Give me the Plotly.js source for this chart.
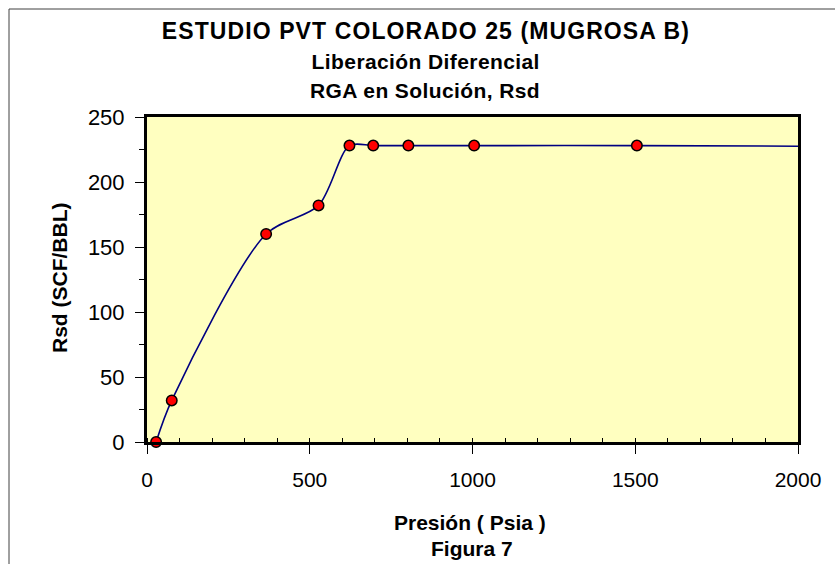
<!DOCTYPE html>
<html>
<head>
<meta charset="utf-8">
<script src="https://cdn.plot.ly/plotly-3.0.1.min.js"></script>
<style>
  html, body { margin: 0; padding: 0; background: #ffffff; }
  #chart { width: 835px; height: 564px; }
  g.annotation[data-index="0"] text { letter-spacing: 1.1px; }
  g.annotation[data-index="1"] text, g.annotation[data-index="2"] text { letter-spacing: 0.4px; }
</style>
</head>
<body>
<div id="chart"></div>
<script>
// Data
var presion = [28, 76, 366, 527, 622, 695, 803, 1005, 1505];
var rsd     = [0, 32, 160, 182, 228, 228, 228, 228, 228];
// continuation of the smoothed curve to the right edge of the chart
var curvaX = presion.concat([2060]);
var curvaY = rsd.concat([227.5]);

var xTicks = [0, 500, 1000, 1500, 2000];
var yTicks = [0, 50, 100, 150, 200, 250];

var titulo = 'ESTUDIO PVT COLORADO 25 (MUGROSA B)';
var sub1 = 'Liberación Diferencial';
var sub2 = 'RGA en Solución, Rsd';
var ejeX = 'Presión ( Psia )';
var figura = 'Figura 7';
var ejeY = 'Rsd (SCF/BBL)';

var FONT = 'Liberation Sans, Arial, sans-serif';

// plot area in pixels: left 147, right 798, top 117, bottom 442
var L = 147, R = 798, T = 117, B = 442;
function px(x) { return (x - L) / (R - L); }
function py(y) { return (B - y) / (B - T); }

var traces = [
  {
    x: curvaX, y: curvaY, mode: 'lines', type: 'scatter',
    line: { color: '#000080', width: 1.6, shape: 'spline', smoothing: 0.85 },
    hoverinfo: 'skip', showlegend: false
  },
  {
    x: presion, y: rsd, mode: 'markers', type: 'scatter',
    marker: { color: '#ff0000', size: 10.5, line: { color: '#000000', width: 1.5 } },
    cliponaxis: false, showlegend: false
  }
];

var layout = {
  width: 835, height: 564,
  margin: { l: L, r: 835 - R, t: T, b: 564 - B, pad: 0 },
  paper_bgcolor: '#ffffff',
  plot_bgcolor: '#ffffc0',
  showlegend: false,
  font: { family: FONT, color: '#000000', size: 21 },
  xaxis: {
    range: [0, 2000], tickvals: xTicks, ticktext: xTicks.map(String),
    showgrid: false, zeroline: false,
    showline: true, linecolor: '#000000', linewidth: 3, mirror: true,
    ticks: 'outside', ticklen: 9, tickwidth: 1, tickcolor: '#000000',
    tickfont: { family: FONT, size: 21, color: '#000000' },
    ticklabelstandoff: 8,
    minor: { dtick: 100, ticks: 'inside', ticklen: 4, tickwidth: 1, tickcolor: '#000000', showgrid: false }
  },
  xaxis2: {
    range: [0, 2000], overlaying: 'x', anchor: 'y', side: 'bottom',
    tickvals: xTicks, showticklabels: false, showgrid: false, zeroline: false, showline: false,
    ticks: 'inside', ticklen: 4, tickwidth: 1, tickcolor: '#000000'
  },
  yaxis: {
    range: [0, 250], tickvals: yTicks, ticktext: yTicks.map(String),
    showgrid: false, zeroline: false,
    showline: true, linecolor: '#000000', linewidth: 3, mirror: true,
    ticks: 'outside', ticklen: 9, tickwidth: 1, tickcolor: '#000000',
    tickfont: { family: FONT, size: 22, color: '#000000' },
    ticklabelstandoff: 6,
    minor: { dtick: 25, ticks: 'outside', ticklen: 5, tickwidth: 1, tickcolor: '#000000', showgrid: false }
  },
  shapes: [
    { type: 'line', xref: 'paper', yref: 'paper', x0: px(9), x1: px(9), y0: py(9), y1: py(600),
      line: { color: '#404040', width: 1 } },
    { type: 'line', xref: 'paper', yref: 'paper', x0: px(9), x1: px(900), y0: py(9), y1: py(9),
      line: { color: '#404040', width: 1 } }
  ],
  annotations: [
    { text: '<b>' + titulo + '</b>', xref: 'paper', yref: 'paper', x: px(426), y: py(31),
      xanchor: 'center', yanchor: 'middle', showarrow: false, font: { family: FONT, size: 23, color: '#000' } },
    { text: '<b>' + sub1 + '</b>', xref: 'paper', yref: 'paper', x: px(425), y: py(62),
      xanchor: 'center', yanchor: 'middle', showarrow: false, font: { family: FONT, size: 21, color: '#000' } },
    { text: '<b>' + sub2 + '</b>', xref: 'paper', yref: 'paper', x: px(425), y: py(90),
      xanchor: 'center', yanchor: 'middle', showarrow: false, font: { family: FONT, size: 21, color: '#000' } },
    { text: '<b>' + ejeX + '</b>', xref: 'paper', yref: 'paper', x: px(470), y: py(522),
      xanchor: 'center', yanchor: 'middle', showarrow: false, font: { family: FONT, size: 21, color: '#000' } },
    { text: '<b>' + figura + '</b>', xref: 'paper', yref: 'paper', x: px(472), y: py(548),
      xanchor: 'center', yanchor: 'middle', showarrow: false, font: { family: FONT, size: 21, color: '#000' } },
    { text: '<b>' + ejeY + '</b>', xref: 'paper', yref: 'paper', x: px(59), y: py(278), textangle: -90,
      xanchor: 'center', yanchor: 'middle', showarrow: false, font: { family: FONT, size: 21, color: '#000' } }
  ]
};

Plotly.newPlot('chart', traces, layout, { displayModeBar: false, staticPlot: true });
</script>
</body>
</html>
